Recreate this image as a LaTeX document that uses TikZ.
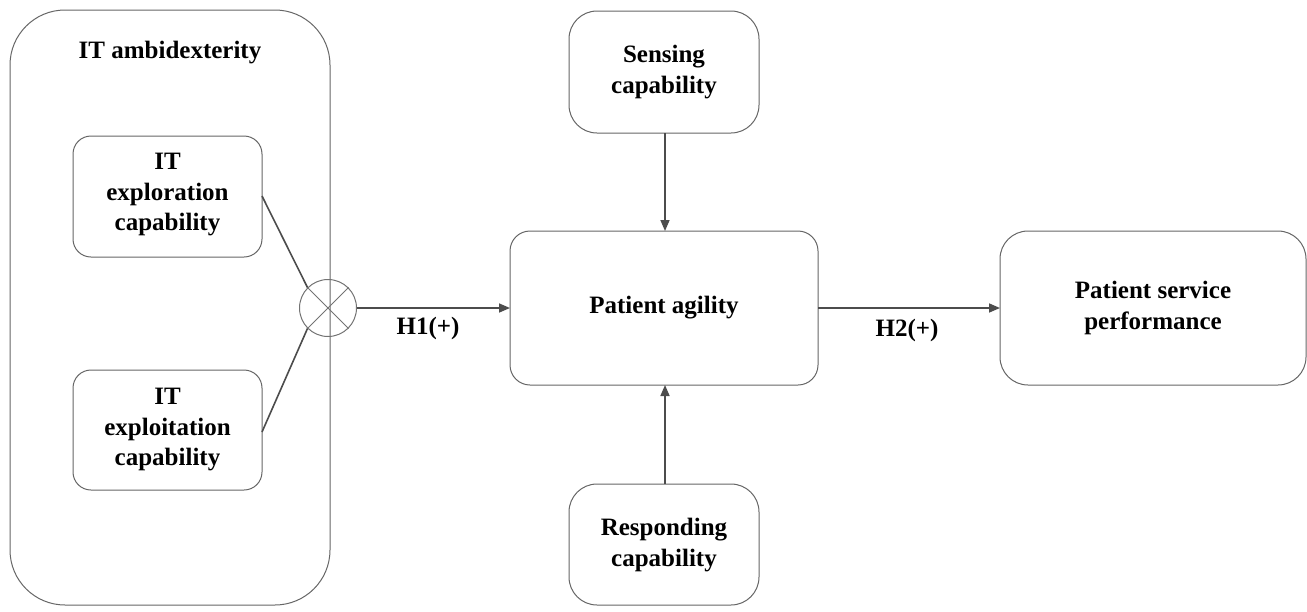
\documentclass[tikz,border=0pt]{standalone}
\usepackage{fontspec}
\setmainfont{Liberation Serif}
\usetikzlibrary{arrows.meta}
\begin{document}
\begin{tikzpicture}[x=1pt,y=-1pt,
  box/.style={draw=black!60, line width=1pt, rounded corners=#1},
  box/.default=20pt,
  lbl/.style={font=\fontsize{25}{30.5}\selectfont\bfseries, align=center},
  conn/.style={draw=black!70, line width=1.6pt},
  arr/.style={conn, -{Triangle[length=11pt,width=9pt]}}]
\useasboundingbox (0,0) rectangle (1307,611);
% outer
\draw[box=55pt] (10,10) rectangle (330,605);
\node[lbl] (amb) at (170,53) {IT ambidexterity};
% inner boxes
\draw[box=18pt] (73,136) rectangle (262,257);
\node[lbl] (explor) at (167.5,195) {IT\\exploration\\capability};
\draw[box=18pt] (73,370) rectangle (262,490);
\node[lbl] (exploi) at (167.5,430) {IT\\exploitation\\capability};
\coordinate (e1) at (262,196);
\coordinate (e2) at (262,432);
% circle
\node[circle, draw=black!55, line width=1pt, minimum size=57pt, inner sep=0pt] (mult) at (328,308) {};
\draw[draw=black!55, line width=1pt] (mult.45) -- (mult.225) (mult.135) -- (mult.315);
\draw[conn] (e1) -- (mult.135);
\draw[conn] (e2) -- (mult.225);
% patient agility
\draw[box=20pt] (510,231) rectangle (818,385);
\node[lbl] (pa) at (664,308) {Patient agility};
\coordinate (paW) at (510,308);
\coordinate (paE) at (818,308);
\coordinate (paN) at (665,231);
\coordinate (paS) at (665,385);
% sensing
\draw[box=28pt] (569,11) rectangle (759,133);
\node[lbl] (sens) at (664,72) {Sensing\\capability};
\coordinate (sensS) at (665,133);
% responding
\draw[box=28pt] (569,484) rectangle (759,605);
\node[lbl] (resp) at (664,545) {Responding\\capability};
\coordinate (respN) at (665,484);
% psp
\draw[box=28pt] (1000,231) rectangle (1306,385);
\node[lbl] (psp) at (1153,308) {Patient service\\performance};
\coordinate (pspW) at (1000,308);
% arrows
\draw[arr] (mult.east) -- (paW);
\node[lbl] (h1) at (428,328) {H1(+)};
\draw[arr] (sensS) -- (paN);
\draw[arr] (respN) -- (paS);
\draw[arr] (paE) -- (pspW);
\node[lbl] (h2) at (907,330) {H2(+)};
\end{tikzpicture}
\end{document}
